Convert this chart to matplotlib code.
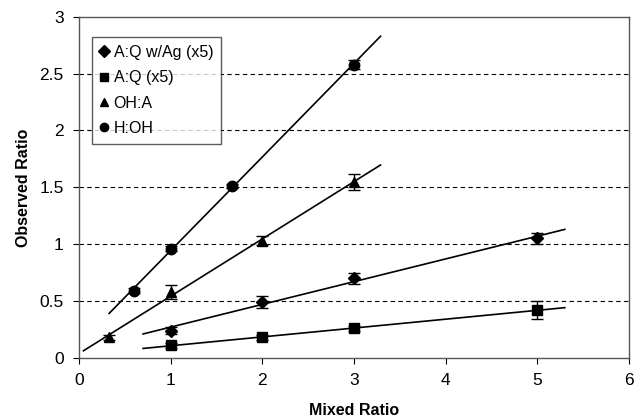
import numpy as np
import matplotlib.pyplot as plt

plt.rcParams['font.family'] = ['Liberation Sans', 'DejaVu Sans']

# measured points (mixed ratio, observed ratio, error)
aqag_x = [1, 2, 3, 5]
aqag_y = [0.24, 0.49, 0.70, 1.05]
aqag_err = [0.03, 0.05, 0.05, 0.05]

aq_x = [1, 2, 3, 5]
aq_y = [0.11, 0.18, 0.26, 0.42]
aq_err = [0.02, 0.02, 0.02, 0.08]

oha_x = [0.33, 1, 2, 3]
oha_y = [0.18, 0.58, 1.03, 1.55]
oha_err = [0.02, 0.06, 0.04, 0.07]

hoh_x = [0.6, 1, 1.67, 3]
hoh_y = [0.59, 0.96, 1.51, 2.58]
hoh_err = [0.02, 0.02, 0.02, 0.04]

# x-range of each trendline
aqag_fit_range = [0.7, 5.3]
aq_fit_range = [0.7, 5.3]
oha_fit_range = [0.05, 3.29]
hoh_fit_range = [0.33, 3.29]

series = [
    ('A:Q w/Ag (x5)', aqag_x, aqag_y, aqag_err, aqag_fit_range, 'D', 6),
    ('A:Q (x5)', aq_x, aq_y, aq_err, aq_fit_range, 's', 7),
    ('OH:A', oha_x, oha_y, oha_err, oha_fit_range, '^', 7.5),
    ('H:OH', hoh_x, hoh_y, hoh_err, hoh_fit_range, 'o', 7.5),
]

fig = plt.figure(figsize=(6.36, 4.2), dpi=100)
ax = fig.add_axes([0.124, 0.148, 0.865, 0.812])

for label, x, y, err, rng, mk, ms in series:
    ax.errorbar(x, y, yerr=err, fmt=mk, color='black', markersize=ms,
                capsize=4, elinewidth=1, capthick=1, label=label, zorder=3)
    slope, icpt = np.polyfit(x, y, 1)
    xs = np.array(rng)
    ax.plot(xs, slope * xs + icpt, color='black', linewidth=1.2, zorder=2)

ax.set_xlim(0, 6)
ax.set_ylim(0, 3)
ax.set_xticks(range(0, 7))
ax.set_yticks([0, 0.5, 1, 1.5, 2, 2.5, 3])
ax.set_yticklabels(['0', '0.5', '1', '1.5', '2', '2.5', '3'])
for yv in [0.5, 1, 1.5, 2, 2.5]:
    ax.axhline(yv, color='black', linestyle=(0, (4, 3)), linewidth=0.8, zorder=1)

for sp in ax.spines.values():
    sp.set_color('#555555')
    sp.set_linewidth(1)
ax.tick_params(direction='out', length=4, labelsize=12.5, pad=7)

ax.set_xlabel('Mixed Ratio', fontsize=11.5, fontweight='bold', labelpad=11)
ax.set_ylabel('Observed Ratio', fontsize=11.5, fontweight='bold', labelpad=6)

handles, labels = ax.get_legend_handles_labels()
leg = ax.legend([h[0] for h in handles], labels, loc='upper left',
                bbox_to_anchor=(0.024, 0.941), fontsize=11.5, frameon=True,
                fancybox=False, edgecolor='#333333', handlelength=0.5,
                handletextpad=0.35, borderpad=0.5, labelspacing=0.65,
                borderaxespad=0)
leg.get_frame().set_linewidth(1)
for h in leg.legend_handles:
    h.set_markersize(6)

fig.savefig('out.png', dpi=100)
